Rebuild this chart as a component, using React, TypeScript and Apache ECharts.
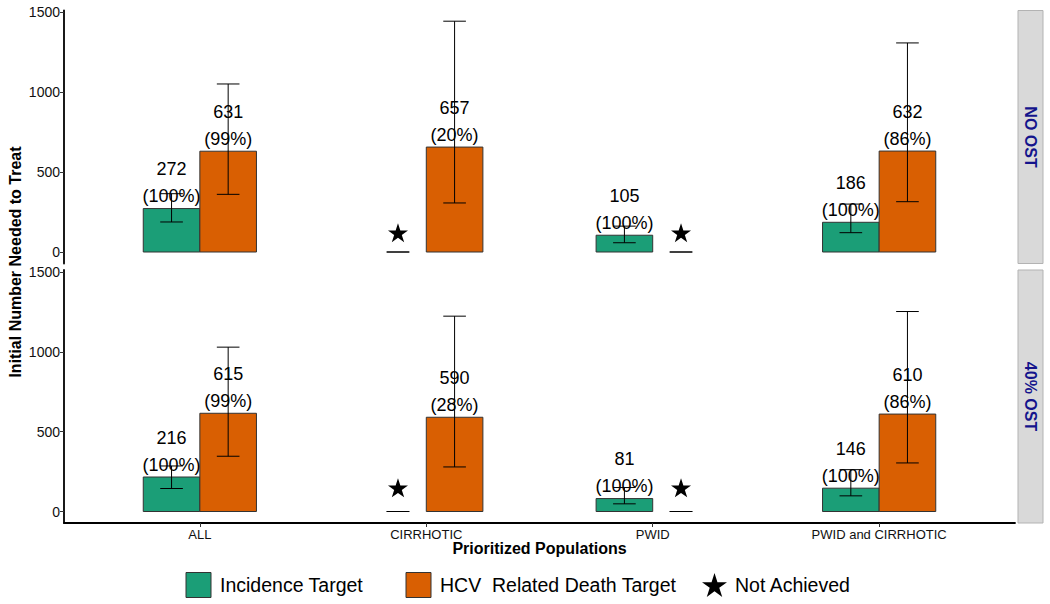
import React, { useEffect, useRef } from "react";
import * as echarts from "echarts";

const categories = ["ALL", "CIRRHOTIC", "PWID", "PWID and CIRRHOTIC"];
const panels = ["NO OST", "40% OST"];
const yTicks = [0, 500, 1000, 1500];

// NO OST panel
const incNoOst = [272, null, 105, 186];
const incPctNoOst = ["100%", null, "100%", "100%"];
const incLowNoOst = [188, 0, 58, 121];
const incHighNoOst = [365, 0, 162, 300];
const deathNoOst = [631, 657, null, 632];
const deathPctNoOst = ["99%", "20%", null, "86%"];
const deathLowNoOst = [361, 307, 0, 315];
const deathHighNoOst = [1052, 1445, 0, 1309];

// 40% OST panel
const inc40 = [216, null, 81, 146];
const incPct40 = ["100%", null, "100%", "100%"];
const incLow40 = [144, 0, 48, 98];
const incHigh40 = [285, 0, 150, 262];
const death40 = [615, 590, null, 610];
const deathPct40 = ["99%", "28%", null, "86%"];
const deathLow40 = [346, 279, 0, 304];
const deathHigh40 = [1029, 1223, 0, 1252];

// height (data units) where the "Not Achieved" star sits, per panel
const starLevel = [120, 148];

const GREEN = "#1B9E77";
const ORANGE = "#D95F02";
const FONT = "Liberation Sans, Arial, Helvetica, sans-serif";
const STAR =
  "path://M100 0 L122.45 69.1 L195.11 69.1 L136.33 111.8 L158.78 180.9 L100 138.2 L41.22 180.9 L63.67 111.8 L4.89 69.1 L77.55 69.1 Z";

const panelData = [
  {
    inc: incNoOst, incPct: incPctNoOst, incLow: incLowNoOst, incHigh: incHighNoOst,
    death: deathNoOst, deathPct: deathPctNoOst, deathLow: deathLowNoOst, deathHigh: deathHighNoOst,
  },
  {
    inc: inc40, incPct: incPct40, incLow: incLow40, incHigh: incHigh40,
    death: death40, deathPct: deathPct40, deathLow: deathLow40, deathHigh: deathHigh40,
  },
];

const GRID_LEFT = 64;
const GRID_W = 951;
const GRID_TOPS = [10.5, 270];
const GRID_H = 253;

function buildOption() {
  const series: any[] = [];
  const grids: any[] = [];
  const xAxes: any[] = [];
  const yAxes: any[] = [];
  const graphics: any[] = [];

  panelData.forEach((pd, gi) => {
    grids.push({ left: GRID_LEFT, width: GRID_W, top: GRID_TOPS[gi], height: GRID_H });
    const isBottom = gi === panelData.length - 1;
    xAxes.push({
      type: "value",
      gridIndex: gi,
      min: 0.4,
      max: 4.6,
      splitLine: { show: false },
      axisLine: { show: isBottom, onZero: false, lineStyle: { color: "#000", width: 1.8 } },
      axisTick: {
        show: isBottom,
        customValues: [1, 2, 3, 4],
        length: 4,
        lineStyle: { color: "#333", width: 1 },
      },
      axisLabel: {
        show: isBottom,
        customValues: [1, 2, 3, 4],
        formatter: (v: number) => categories[Math.round(v) - 1] || "",
        fontSize: 13,
        color: "#111",
        fontFamily: FONT,
        margin: 5,
      },
    });
    yAxes.push({
      type: "value",
      gridIndex: gi,
      min: -72,
      max: 1512,
      splitLine: { show: false },
      axisLine: { show: true, onZero: false, lineStyle: { color: "#000", width: 1.8 } },
      axisTick: { show: true, customValues: yTicks, length: 4, lineStyle: { color: "#333", width: 1 } },
      axisLabel: {
        show: true,
        customValues: yTicks,
        formatter: (v: number) => String(Math.round(v)),
        fontSize: 14,
        color: "#111",
        fontFamily: FONT,
        margin: 4,
      },
    });

    const groups = [
      { vals: pd.inc, pct: pd.incPct, low: pd.incLow, high: pd.incHigh, off: -0.125, color: GREEN },
      { vals: pd.death, pct: pd.deathPct, low: pd.deathLow, high: pd.deathHigh, off: 0.125, color: ORANGE },
    ];

    groups.forEach((g) => {
      // bars + labels
      series.push({
        type: "custom",
        xAxisIndex: gi,
        yAxisIndex: gi,
        clip: false,
        data: categories.map((_, i) => [i + 1 + g.off, g.vals[i] == null ? 0 : g.vals[i], g.vals[i] == null ? 0 : 1]),
        renderItem: (params: any, api: any) => {
          const i = params.dataIndex;
          if (api.value(2) === 0) return null;
          const x = api.value(0);
          const v = api.value(1);
          const p0 = api.coord([x - 0.125, v]);
          const p1 = api.coord([x + 0.125, 0]);
          return {
            type: "group",
            children: [
              {
                type: "rect",
                shape: { x: p0[0], y: p0[1], width: p1[0] - p0[0], height: p1[1] - p0[1] },
                style: { fill: g.color, stroke: "#333", lineWidth: 1 },
              },
              {
                type: "text",
                x: (p0[0] + p1[0]) / 2,
                y: p0[1] + 1,
                z2: 10,
                style: {
                  text: `${g.vals[i]}\n(${g.pct[i]})`,
                  fill: "#000",
                  font: `18px ${FONT}`,
                  lineHeight: 27,
                  align: "center",
                  verticalAlign: "bottom",
                },
              },
            ],
          };
        },
      });
      // error bars
      series.push({
        type: "custom",
        xAxisIndex: gi,
        yAxisIndex: gi,
        clip: false,
        z: 3,
        data: categories.map((_, i) => [i + 1 + g.off, g.low[i], g.high[i]]),
        renderItem: (params: any, api: any) => {
          const x = api.value(0);
          const lo = api.value(1);
          const hi = api.value(2);
          const pl = api.coord([x, lo]);
          const ph = api.coord([x, hi]);
          const cl0 = api.coord([x - 0.05, lo]);
          const cl1 = api.coord([x + 0.05, lo]);
          const ch0 = api.coord([x - 0.05, hi]);
          const ch1 = api.coord([x + 0.05, hi]);
          const st = { stroke: "#000", lineWidth: 1 };
          return {
            type: "group",
            children: [
              { type: "line", shape: { x1: pl[0], y1: pl[1], x2: ph[0], y2: ph[1] }, style: st },
              { type: "line", shape: { x1: cl0[0], y1: cl0[1], x2: cl1[0], y2: cl1[1] }, style: st },
              { type: "line", shape: { x1: ch0[0], y1: ch0[1], x2: ch1[0], y2: ch1[1] }, style: st },
            ],
          };
        },
      });
      // stars for not achieved
      const starData = categories
        .map((_, i) => (g.vals[i] == null ? [i + 1 + g.off, starLevel[gi]] : null))
        .filter((d) => d !== null);
      if (starData.length) {
        series.push({
          type: "scatter",
          xAxisIndex: gi,
          yAxisIndex: gi,
          symbol: STAR,
          symbolSize: [20, 19],
          itemStyle: { color: "#000", opacity: 1 },
          data: starData,
          z: 4,
        });
      }
    });

    // strip
    graphics.push({
      type: "rect",
      shape: { x: 1018, y: GRID_TOPS[gi], width: 25, height: GRID_H },
      style: { fill: "#D9D9D9", stroke: "#B3B3B3", lineWidth: 1 },
    });
    graphics.push({
      type: "text",
      x: 1030.5,
      y: GRID_TOPS[gi] + GRID_H / 2,
      rotation: -Math.PI / 2,
      style: {
        text: panels[gi],
        fill: "#14148C",
        font: `bold 16px ${FONT}`,
        align: "center",
        verticalAlign: "middle",
      },
    });
  });

  // axis titles
  graphics.push({
    type: "text",
    x: 15,
    y: 262,
    rotation: Math.PI / 2,
    style: {
      text: "Initial Number Needed to Treat",
      fill: "#000",
      font: `bold 16px ${FONT}`,
      align: "center",
      verticalAlign: "middle",
    },
  });
  graphics.push({
    type: "text",
    x: 539.5,
    y: 548,
    style: {
      text: "Prioritized Populations",
      fill: "#000",
      font: `bold 16px ${FONT}`,
      align: "center",
      verticalAlign: "middle",
    },
  });

  // legend
  const legendY = 585;
  graphics.push({
    type: "rect",
    shape: { x: 186, y: legendY - 12.5, width: 25, height: 25 },
    style: { fill: GREEN, stroke: "#333", lineWidth: 1 },
  });
  graphics.push({
    type: "text",
    x: 220,
    y: legendY,
    style: { text: "Incidence Target", fill: "#000", font: `19.5px ${FONT}`, verticalAlign: "middle" },
  });
  graphics.push({
    type: "rect",
    shape: { x: 406, y: legendY - 12.5, width: 25, height: 25 },
    style: { fill: ORANGE, stroke: "#333", lineWidth: 1 },
  });
  graphics.push({
    type: "text",
    x: 440,
    y: legendY,
    style: { text: "HCV  Related Death Target", fill: "#000", font: `19.5px ${FONT}`, verticalAlign: "middle" },
  });
  graphics.push({
    type: "text",
    x: 735,
    y: legendY,
    style: { text: "Not Achieved", fill: "#000", font: `19.5px ${FONT}`, verticalAlign: "middle" },
  });

  // legend star drawn through a scatter on a hidden helper grid
  grids.push({ left: 702, top: legendY - 12, width: 25, height: 24 });
  xAxes.push({ type: "value", gridIndex: 2, min: 0, max: 1, show: false });
  yAxes.push({ type: "value", gridIndex: 2, min: 0, max: 1, show: false });
  series.push({
    type: "scatter",
    xAxisIndex: 2,
    yAxisIndex: 2,
    symbol: STAR,
    symbolSize: [25, 24],
    itemStyle: { color: "#000", opacity: 1 },
    data: [[0.5, 0.5]],
    silent: true,
  });

  return {
    animation: false,
    backgroundColor: "#fff",
    grid: grids,
    xAxis: xAxes,
    yAxis: yAxes,
    series,
    graphic: graphics,
  };
}

export default function App() {
  const ref = useRef<HTMLDivElement>(null);
  useEffect(() => {
    document.body.style.margin = "0";
    if (!ref.current) return;
    const chart = echarts.init(ref.current, undefined, { renderer: "svg" });
    chart.setOption(buildOption() as any);
    return () => chart.dispose();
  }, []);
  return <div ref={ref} style={{ width: 1050, height: 604 }} />;
}
